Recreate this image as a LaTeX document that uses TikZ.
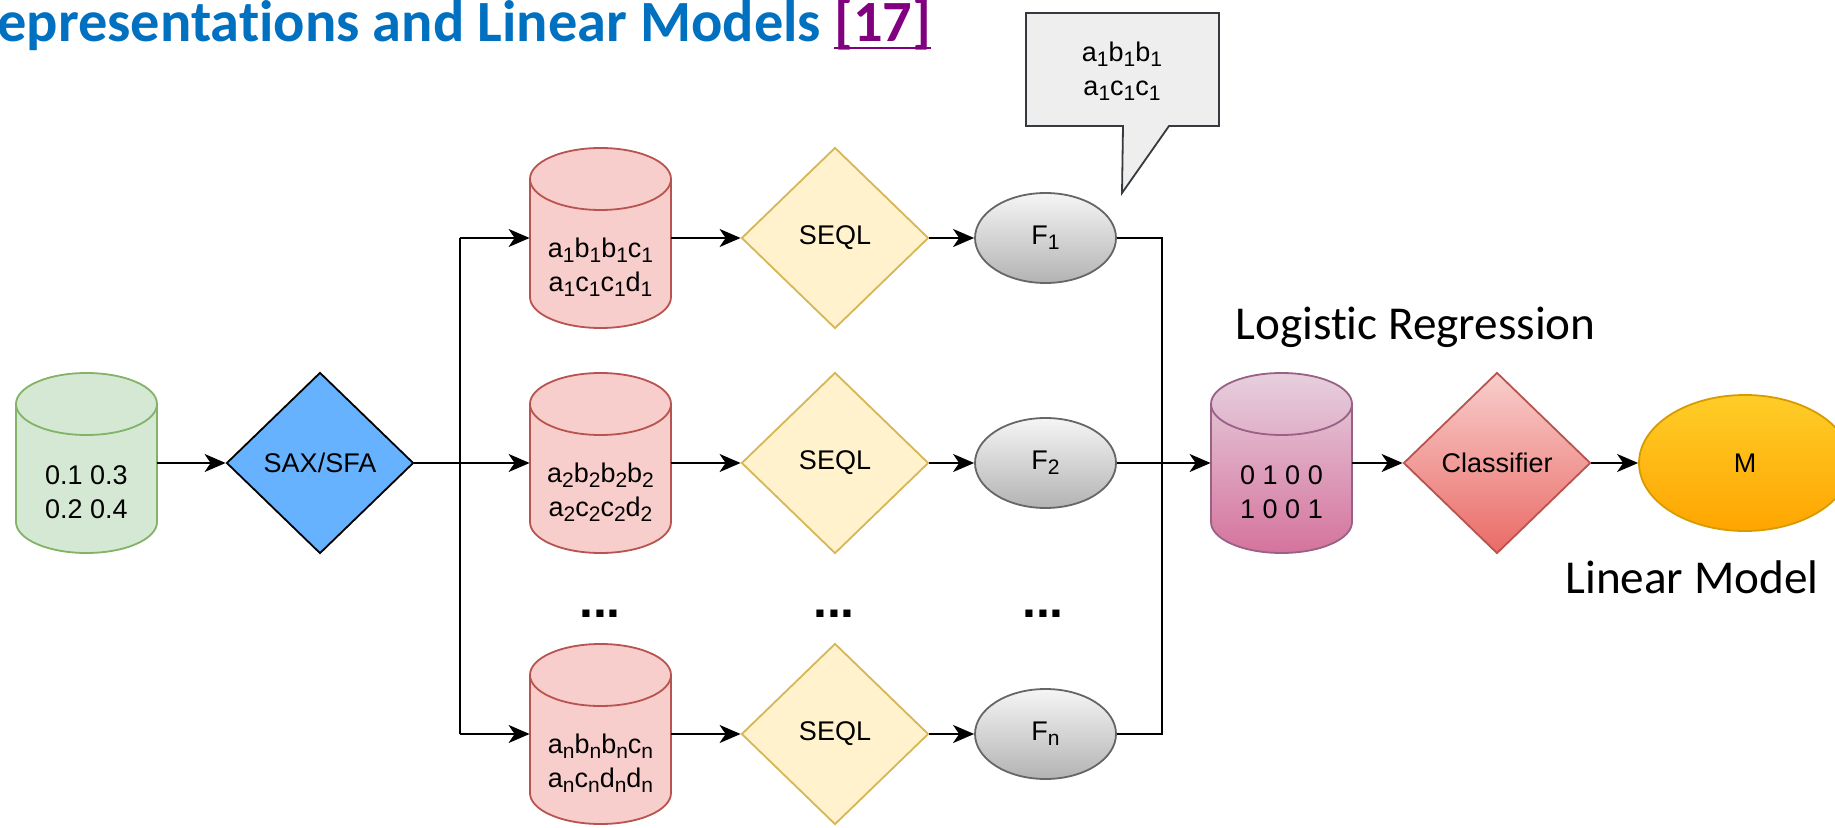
\documentclass[tikz,border=0pt]{standalone}
\usepackage{fontspec}
\usetikzlibrary{shapes.geometric,arrows.meta}
\newfontfamily\hv{Liberation Sans}
\newfontfamily\calibri[Ligatures=NoCommon]{Carlito}
\definecolor{titleblue}{HTML}{0070C0}
\definecolor{refpurple}{HTML}{800080}
\definecolor{gfill}{HTML}{D5E8D4}\definecolor{gstroke}{HTML}{82B366}
\definecolor{saxfill}{HTML}{66B2FF}
\definecolor{rfill}{HTML}{F8CECC}\definecolor{rstroke}{HTML}{B85450}
\definecolor{yfill}{HTML}{FFF2CC}\definecolor{ystroke}{HTML}{D6B656}
\definecolor{ftop}{HTML}{F5F5F5}\definecolor{fbot}{HTML}{B3B3B3}\definecolor{fstroke}{HTML}{666666}
\definecolor{cofill}{HTML}{EEEEEE}\definecolor{costroke}{HTML}{36393D}
\definecolor{ptop}{HTML}{E6D0DE}\definecolor{pbot}{HTML}{D5739D}\definecolor{pstroke}{HTML}{996185}
\definecolor{ctop}{HTML}{F8CECC}\definecolor{cbot}{HTML}{EA6B66}
\definecolor{mtop}{HTML}{FFCD28}\definecolor{mbot}{HTML}{FFA500}\definecolor{mstroke}{HTML}{D79B00}
\newsavebox\refbox
\newcommand\sbs[1]{\raisebox{-2.5pt}{\fontsize{10.5pt}{10.5pt}\selectfont #1}}
% name, cx, cy, body style, stroke colour, text
\newcommand\dbcyl[6]{%
  \path[#4] ({#2-70.5},{#3-59}) -- ({#2-70.5},{#3+59})
    arc[start angle=180,end angle=360,x radius=35.25pt,y radius=15.5pt]
    -- ({#2+70.5},{#3-59})
    arc[start angle=0,end angle=180,x radius=35.25pt,y radius=15.5pt] -- cycle;
  \draw[draw=#5,line width=0.9pt] ({#2-70.5},{#3-59})
    arc[start angle=180,end angle=360,x radius=35.25pt,y radius=15.5pt];
  \node[minimum width=70.5pt,minimum height=90pt,inner sep=0pt] (#1) at (#2,#3) {};
  \node[lbl] (#1t) at (#2,{#3+29}) {#6};
}
\begin{document}
\begin{tikzpicture}[x=0.5pt,y=-0.5pt,
  lbl/.style={font=\hv\fontsize{13.5pt}{17pt}\selectfont,align=center,inner sep=0pt},
  arr/.style={line width=1pt,-{Stealth[length=10.5pt,width=9pt,inset=3pt]}},
  wire/.style={line width=1pt},
  dia/.style={diamond,minimum width=93.5pt,minimum height=90.5pt,inner sep=0pt,line width=0.9pt,lbl},
  fell/.style={ellipse,minimum width=70.5pt,minimum height=45pt,inner sep=0pt,line width=0.9pt,
    draw=fstroke,top color=ftop,bottom color=fbot,lbl},
  dots/.style={font=\hv\bfseries\fontsize{25pt}{25pt}\selectfont,inner sep=0pt,anchor=base},
  big/.style={font=\calibri\fontsize{23.6pt}{28pt}\selectfont,inner sep=0pt,anchor=base west}]
\useasboundingbox (0,0) rectangle (1835,828);
\clip (0,0) rectangle (1835,828);
\fill[white] (0,0) rectangle (1835,828);

% title
\node[font=\calibri\bfseries\fontsize{29.2pt}{34pt}\selectfont,text=titleblue,inner sep=0pt,anchor=base west]
  (title) at (-3,42) {epresentations and Linear Models \sbox\refbox{\color{refpurple}[17]}{\color{refpurple}\rlap{\rule[-3.6pt]{\wd\refbox}{1.1pt}}}\usebox\refbox};

% callout
\path[draw=costroke,fill=cofill,line width=0.9pt] (1026,13) -- (1219,13) -- (1219,126) -- (1169,126)
  -- (1122,193) -- (1123,126) -- (1026,126) -- cycle;
\node[lbl] (callt) at (1122,71) {a\sbs{1}b\sbs{1}b\sbs{1}\\a\sbs{1}c\sbs{1}c\sbs{1}};

% input cylinder
\dbcyl{gc}{86.5}{463}{draw=gstroke,fill=gfill,line width=0.9pt}{gstroke}{0.1 0.3\\0.2 0.4}
\node[dia,draw=black,fill=saxfill] (sax) at (320,463) {SAX/SFA};

% rows
\dbcyl{c1}{600.5}{238}{draw=rstroke,fill=rfill,line width=0.9pt}{rstroke}{a\sbs{1}b\sbs{1}b\sbs{1}c\sbs{1}\\a\sbs{1}c\sbs{1}c\sbs{1}d\sbs{1}}
\dbcyl{c2}{600.5}{463}{draw=rstroke,fill=rfill,line width=0.9pt}{rstroke}{a\sbs{2}b\sbs{2}b\sbs{2}b\sbs{2}\\a\sbs{2}c\sbs{2}c\sbs{2}d\sbs{2}}
\dbcyl{c3}{600.5}{734}{draw=rstroke,fill=rfill,line width=0.9pt}{rstroke}{a\sbs{n}b\sbs{n}b\sbs{n}c\sbs{n}\\a\sbs{n}c\sbs{n}d\sbs{n}d\sbs{n}}

\node[dia,draw=ystroke,fill=yfill] (s1) at (835,238) {SEQL};
\node[dia,draw=ystroke,fill=yfill] (s2) at (835,463) {SEQL};
\node[dia,draw=ystroke,fill=yfill] (s3) at (835,734) {SEQL};

\node[fell] (f1) at (1045.5,238) {F\sbs{1}};
\node[fell] (f2) at (1045.5,463) {F\sbs{2}};
\node[fell] (f3) at (1045.5,734) {F\sbs{n}};

\node[dots] (d1) at (600,617) {...};
\node[dots] (d2) at (834,617) {...};
\node[dots] (d3) at (1043,617) {...};

% right part
\dbcyl{pc}{1281.5}{463}{draw=pstroke,top color=ptop,bottom color=pbot,line width=0.9pt}{pstroke}{0 1 0 0\\1 0 0 1}
\node[dia,draw=rstroke,top color=ctop,bottom color=cbot] (cls) at (1497,463) {Classifier};
\node[ellipse,minimum width=106pt,minimum height=68pt,inner sep=0pt,line width=0.9pt,
  draw=mstroke,top color=mtop,bottom color=mbot,lbl] (m) at (1745,463) {M};

\node[big] (lr) at (1235,340) {Logistic Regression};
\node[big] (lm) at (1565,593) {Linear Model};

% buses
\coordinate (bl1) at (460,238);\coordinate (bl2) at (460,463);\coordinate (bl3) at (460,734);
\coordinate (br1) at (1162,238);\coordinate (br2) at (1162,463);\coordinate (br3) at (1162,734);

% connectors
\draw[arr] (gc.east) -- (sax.west);
\draw[wire] (sax.east) -- (bl2);
\draw[wire] (bl1) -- (bl3);
\draw[arr] (bl1) -- (c1.west);
\draw[arr] (bl2) -- (c2.west);
\draw[arr] (bl3) -- (c3.west);
\draw[arr] (c1.east) -- (s1.west);
\draw[arr] (c2.east) -- (s2.west);
\draw[arr] (c3.east) -- (s3.west);
\draw[arr] (s1.east) -- (f1.west);
\draw[arr] (s2.east) -- (f2.west);
\draw[arr] (s3.east) -- (f3.west);
\draw[wire] (f1.east) -- (br1) -- (br3) -- (f3.east);
\draw[wire] (f2.east) -- (br2);
\draw[arr] (br2) -- (pc.west);
\draw[arr] (pc.east) -- (cls.west);
\draw[arr] (cls.east) -- (m.west);
\end{tikzpicture}
\end{document}
